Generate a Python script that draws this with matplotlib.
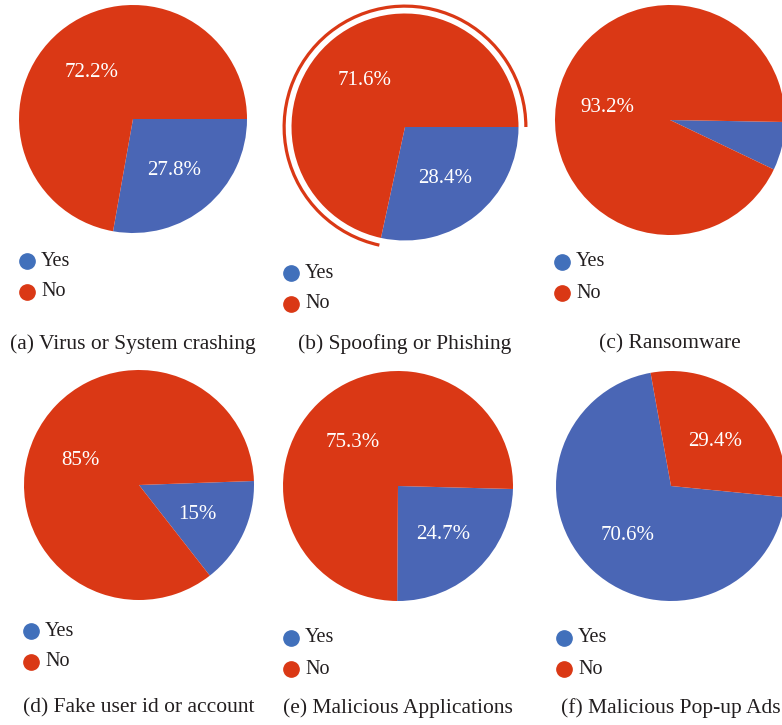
import numpy as np
import matplotlib
matplotlib.use("Agg")
import matplotlib.pyplot as plt
from matplotlib.patches import Arc
from matplotlib.lines import Line2D

# survey answers, percent of "Yes" / "No" per threat type
captions = [
    "(a) Virus or System crashing",
    "(b) Spoofing or Phishing",
    "(c) Ransomware",
    "(d) Fake user id or account",
    "(e) Malicious Applications",
    "(f) Malicious Pop-up Ads",
]
yes_pct = [27.8, 28.4, 6.8, 15, 24.7, 70.6]
no_pct = [72.2, 71.6, 93.2, 85, 75.3, 29.4]
start_angles = [0, 0, -1, 2, -1.5, -5.6]

BLUE = "#4a66b5"
RED = "#da3815"
LEG_BLUE = "#4170bb"
W, H = 782, 725

plt.rcParams["font.family"] = ["Liberation Serif", "DejaVu Serif"]

fig = plt.figure(figsize=(W / 100, H / 100), dpi=100)

# pixel layout: pie centre, radius, legend anchor, caption y
centers = [(133, 119), (405, 127), (670, 120), (139, 485), (398, 486), (671, 486)]
radii = [114, 113.5, 115, 115, 115, 115]
legend_xy = [(27, 261), (291, 273), (562, 262), (31, 631), (291, 638), (564, 638)]
caption_y = [344, 344, 344, 708, 708, 708]


def pct_label(p):
    if p < 10:
        return ""
    if float(p).is_integer():
        return "%d%%" % p
    return "%.1f%%" % p


for i in range(6):
    cx, cy = centers[i]
    r = radii[i]
    span = 1.2
    size = 2 * r * span
    ax = fig.add_axes([(cx - size / 2) / W, 1 - (cy + size / 2) / H, size / W, size / H])
    vals = [yes_pct[i], no_pct[i]]
    wedges, _ = ax.pie(vals, colors=[BLUE, RED], startangle=start_angles[i],
                       counterclock=False, radius=1,
                       wedgeprops=dict(linewidth=0))
    # percentage labels placed at wedge mid angles
    theta = start_angles[i]
    for v in vals:
        mid = np.deg2rad(theta - v * 3.6 / 2)
        theta -= v * 3.6
        ax.text(0.56 * np.cos(mid), 0.56 * np.sin(mid), pct_label(v),
                ha="center", va="center_baseline", color="white", fontsize=15)
    if i == 1:
        # highlight ring around the selected "No" slice
        yes_end = start_angles[i] - yes_pct[i] * 3.6
        ax.add_patch(Arc((0, 0), 2 * 1.065, 2 * 1.065, theta1=start_angles[i],
                         theta2=360 + yes_end, color=RED, linewidth=2.3))
    ax.set_xlim(-span, span)
    ax.set_ylim(-span, span)
    ax.set_aspect("equal")
    ax.axis("off")

    # legend
    lx, ly = legend_xy[i]
    for j, (lab, col) in enumerate([("Yes", LEG_BLUE), ("No", RED)]):
        yy = ly + j * 31
        fig.add_artist(Line2D([lx / W], [1 - yy / H], marker="o", markersize=11,
                              color=col, linestyle="none", transform=fig.transFigure))
        fig.text((lx + 14) / W, 1 - yy / H, lab, ha="left", va="center",
                 fontsize=14.5, color="#231f20")

    fig.text(cx / W, 1 - caption_y[i] / H, captions[i], ha="center", va="center",
             fontsize=15.5, color="#231f20")

fig.savefig("out.png", dpi=100)
